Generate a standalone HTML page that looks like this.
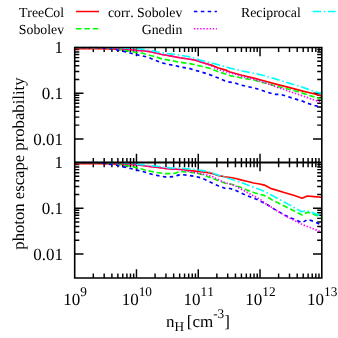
<!DOCTYPE html>
<html><head><meta charset="utf-8"><title>plot</title>
<style>html,body{margin:0;padding:0;background:#fff;overflow:hidden}svg{display:block;will-change:transform;opacity:0.999}text{font-family:"Liberation Serif",serif;fill:#000;text-rendering:geometricPrecision;font-kerning:none}</style>
</head><body>
<svg width="338" height="338" viewBox="0 0 338 338">
<rect width="338" height="338" fill="#fff"/>
<defs><clipPath id="ct"><rect x="74.7" y="46.8" width="247.1" height="115.8"/></clipPath><clipPath id="cb"><rect x="74.7" y="161.8" width="247.1" height="116.2"/></clipPath></defs>
<path d="M93.30 47.50 v4.60 M93.30 157.95 v9.20 M93.30 278.00 v-4.60 M104.17 47.50 v4.60 M104.17 157.95 v9.20 M104.17 278.00 v-4.60 M111.89 47.50 v4.60 M111.89 157.95 v9.20 M111.89 278.00 v-4.60 M117.88 47.50 v4.60 M117.88 157.95 v9.20 M117.88 278.00 v-4.60 M122.77 47.50 v4.60 M122.77 157.95 v9.20 M122.77 278.00 v-4.60 M126.91 47.50 v4.60 M126.91 157.95 v9.20 M126.91 278.00 v-4.60 M130.49 47.50 v4.60 M130.49 157.95 v9.20 M130.49 278.00 v-4.60 M133.65 47.50 v4.60 M133.65 157.95 v9.20 M133.65 278.00 v-4.60 M136.48 47.50 v8.80 M136.48 153.75 v17.60 M136.48 278.00 v-8.80 M155.07 47.50 v4.60 M155.07 157.95 v9.20 M155.07 278.00 v-4.60 M165.95 47.50 v4.60 M165.95 157.95 v9.20 M165.95 278.00 v-4.60 M173.67 47.50 v4.60 M173.67 157.95 v9.20 M173.67 278.00 v-4.60 M179.65 47.50 v4.60 M179.65 157.95 v9.20 M179.65 278.00 v-4.60 M184.55 47.50 v4.60 M184.55 157.95 v9.20 M184.55 278.00 v-4.60 M188.68 47.50 v4.60 M188.68 157.95 v9.20 M188.68 278.00 v-4.60 M192.26 47.50 v4.60 M192.26 157.95 v9.20 M192.26 278.00 v-4.60 M195.42 47.50 v4.60 M195.42 157.95 v9.20 M195.42 278.00 v-4.60 M198.25 47.50 v8.80 M198.25 153.75 v17.60 M198.25 278.00 v-8.80 M216.85 47.50 v4.60 M216.85 157.95 v9.20 M216.85 278.00 v-4.60 M227.72 47.50 v4.60 M227.72 157.95 v9.20 M227.72 278.00 v-4.60 M235.44 47.50 v4.60 M235.44 157.95 v9.20 M235.44 278.00 v-4.60 M241.43 47.50 v4.60 M241.43 157.95 v9.20 M241.43 278.00 v-4.60 M246.32 47.50 v4.60 M246.32 157.95 v9.20 M246.32 278.00 v-4.60 M250.46 47.50 v4.60 M250.46 157.95 v9.20 M250.46 278.00 v-4.60 M254.04 47.50 v4.60 M254.04 157.95 v9.20 M254.04 278.00 v-4.60 M257.20 47.50 v4.60 M257.20 157.95 v9.20 M257.20 278.00 v-4.60 M260.03 47.50 v8.80 M260.03 153.75 v17.60 M260.03 278.00 v-8.80 M278.62 47.50 v4.60 M278.62 157.95 v9.20 M278.62 278.00 v-4.60 M289.50 47.50 v4.60 M289.50 157.95 v9.20 M289.50 278.00 v-4.60 M297.22 47.50 v4.60 M297.22 157.95 v9.20 M297.22 278.00 v-4.60 M303.20 47.50 v4.60 M303.20 157.95 v9.20 M303.20 278.00 v-4.60 M308.10 47.50 v4.60 M308.10 157.95 v9.20 M308.10 278.00 v-4.60 M312.23 47.50 v4.60 M312.23 157.95 v9.20 M312.23 278.00 v-4.60 M315.81 47.50 v4.60 M315.81 157.95 v9.20 M315.81 278.00 v-4.60 M318.97 47.50 v4.60 M318.97 157.95 v9.20 M318.97 278.00 v-4.60 M74.70 49.59 h4.60 M321.80 49.59 h-4.60 M74.70 51.93 h4.60 M321.80 51.93 h-4.60 M74.70 54.58 h4.60 M321.80 54.58 h-4.60 M74.70 57.64 h4.60 M321.80 57.64 h-4.60 M74.70 61.26 h4.60 M321.80 61.26 h-4.60 M74.70 65.69 h4.60 M321.80 65.69 h-4.60 M74.70 71.40 h4.60 M321.80 71.40 h-4.60 M74.70 79.44 h4.60 M321.80 79.44 h-4.60 M74.70 93.20 h8.80 M321.80 93.20 h-8.80 M74.70 95.29 h4.60 M321.80 95.29 h-4.60 M74.70 97.63 h4.60 M321.80 97.63 h-4.60 M74.70 100.28 h4.60 M321.80 100.28 h-4.60 M74.70 103.34 h4.60 M321.80 103.34 h-4.60 M74.70 106.96 h4.60 M321.80 106.96 h-4.60 M74.70 111.39 h4.60 M321.80 111.39 h-4.60 M74.70 117.10 h4.60 M321.80 117.10 h-4.60 M74.70 125.14 h4.60 M321.80 125.14 h-4.60 M74.70 138.90 h8.80 M321.80 138.90 h-8.80 M74.70 164.64 h4.60 M321.80 164.64 h-4.60 M74.70 166.98 h4.60 M321.80 166.98 h-4.60 M74.70 169.63 h4.60 M321.80 169.63 h-4.60 M74.70 172.69 h4.60 M321.80 172.69 h-4.60 M74.70 176.31 h4.60 M321.80 176.31 h-4.60 M74.70 180.74 h4.60 M321.80 180.74 h-4.60 M74.70 186.45 h4.60 M321.80 186.45 h-4.60 M74.70 194.49 h4.60 M321.80 194.49 h-4.60 M74.70 208.25 h8.80 M321.80 208.25 h-8.80 M74.70 210.34 h4.60 M321.80 210.34 h-4.60 M74.70 212.68 h4.60 M321.80 212.68 h-4.60 M74.70 215.33 h4.60 M321.80 215.33 h-4.60 M74.70 218.39 h4.60 M321.80 218.39 h-4.60 M74.70 222.01 h4.60 M321.80 222.01 h-4.60 M74.70 226.44 h4.60 M321.80 226.44 h-4.60 M74.70 232.15 h4.60 M321.80 232.15 h-4.60 M74.70 240.19 h4.60 M321.80 240.19 h-4.60 M74.70 253.95 h8.80 M321.80 253.95 h-8.80" stroke="#000" stroke-width="1.45" fill="none"/>
<g clip-path="url(#ct)" fill="none" stroke-width="1.65" stroke-linejoin="round">
<path d="M74.7 48.6 L100.0 48.7 L118.0 49.1 L132.0 49.8 L144.4 51.0 L150.0 51.6 L155.9 53.0 L161.8 54.5 L170.1 55.9 L179.6 57.7 L190.0 59.3 L196.2 60.4 L203.3 62.7 L212.4 65.4 L217.8 67.7 L226.6 70.4 L230.0 72.0 L241.8 75.3 L253.7 78.1 L265.5 81.3 L276.8 84.4 L288.7 87.4 L301.8 90.9 L313.7 93.8 L321.5 96.0" stroke="#ff0000"/>
<path d="M74.7 47.3 L102.0 47.4 L108.0 48.0 L114.7 49.0 L125.7 50.5 L133.7 52.0 L142.8 53.3 L149.0 55.0 L151.5 55.7 L155.9 56.8 L161.8 58.9 L170.1 60.4 L179.6 62.2 L190.0 63.6 L201.5 66.3 L208.9 68.1 L217.8 71.6 L226.6 74.3 L230.0 75.6 L241.8 78.0 L253.7 80.0 L265.5 83.2 L276.8 86.4 L288.7 89.2 L301.8 92.9 L313.7 96.8 L321.5 98.9" stroke="#00ff00" stroke-dasharray="5.5 2.8"/>
<path d="M74.7 47.3 L96.0 47.4 L102.0 47.8 L108.0 48.4 L114.7 49.3 L121.8 51.1 L128.3 52.5 L134.9 54.4 L141.4 55.6 L148.5 57.4 L154.7 60.0 L161.8 62.8 L167.8 64.3 L174.9 65.5 L182.0 67.3 L190.0 68.6 L194.4 70.2 L200.0 71.6 L208.9 74.3 L217.8 77.8 L226.6 81.6 L234.1 82.7 L241.2 85.1 L247.8 86.7 L254.3 88.0 L260.8 90.0 L267.7 92.4 L274.5 94.3 L281.0 94.5 L287.5 96.5 L294.0 98.6 L301.2 100.7 L307.8 103.3 L314.3 105.4 L321.5 107.4" stroke="#0000ff" stroke-dasharray="3.5 3.4"/>
<path d="M74.7 47.3 L108.0 47.5 L120.0 48.8 L132.0 50.0 L144.4 51.2 L150.0 51.7 L155.9 53.1 L161.8 54.5 L170.1 55.8 L179.6 57.6 L190.0 59.2 L196.2 60.2 L203.3 62.9 L208.0 64.6 L212.4 66.6 L217.8 69.3 L226.6 72.0 L235.5 74.2 L241.8 76.4 L253.7 79.1 L265.5 82.9 L273.3 85.8 L279.2 88.0 L283.9 89.4 L289.9 91.7 L295.8 93.5 L301.8 95.6 L313.7 99.8 L321.5 102.4" stroke="#ff00ff" stroke-dasharray="1.4 1.75"/>
<path d="M74.7 47.3 L115.0 47.4 L128.0 48.2 L140.8 49.0 L150.0 50.4 L155.9 51.5 L161.8 52.9 L170.1 53.9 L179.6 55.1 L190.0 56.9 L194.4 58.3 L200.0 60.1 L214.2 63.6 L226.6 67.0 L230.0 68.1 L241.8 70.9 L253.7 73.2 L265.5 75.9 L276.8 79.4 L288.7 83.1 L301.8 87.0 L313.7 91.4 L321.5 93.5" stroke="#00ffff" stroke-dasharray="8.5 2.7 1.5 2.7"/>
</g>
<g clip-path="url(#cb)" fill="none" stroke-width="1.65" stroke-linejoin="round">
<path d="M74.7 163.6 L100.0 163.7 L120.0 164.1 L136.6 164.8 L149.0 166.5 L160.0 167.8 L165.0 168.5 L170.0 168.9 L176.8 169.2 L182.0 169.5 L188.7 170.4 L195.0 171.1 L200.5 171.8 L206.8 172.4 L212.8 173.6 L218.7 175.6 L224.6 176.8 L230.5 177.5 L235.9 178.5 L241.8 180.1 L247.8 181.5 L253.7 183.0 L259.6 184.0 L264.3 185.1 L270.0 188.0 L272.2 188.9 L283.3 192.2 L294.4 195.5 L302.1 198.2 L307.2 196.0 L314.3 196.6 L321.5 197.3" stroke="#ff0000"/>
<path d="M74.7 162.3 L104.0 162.5 L115.0 163.8 L127.8 165.7 L136.6 167.8 L147.3 170.6 L156.2 172.4 L165.0 173.6 L170.0 173.6 L174.5 173.4 L177.0 172.4 L180.0 171.6 L183.0 171.6 L188.7 172.2 L197.0 173.2 L203.0 174.8 L206.8 176.2 L212.8 178.6 L218.7 180.9 L224.6 183.1 L230.5 184.0 L235.9 185.4 L241.8 187.8 L247.8 190.4 L253.7 192.5 L259.6 194.3 L264.3 195.4 L270.0 198.4 L272.2 200.0 L283.3 205.5 L294.4 211.0 L302.1 215.0 L307.7 212.2 L316.6 215.5 L321.5 217.7" stroke="#00ff00" stroke-dasharray="5.5 2.8"/>
<path d="M74.7 162.3 L97.0 162.5 L108.0 164.0 L117.1 165.3 L126.0 167.4 L134.9 169.6 L142.0 171.3 L152.6 174.5 L161.5 176.3 L165.0 176.9 L170.0 176.9 L174.0 176.6 L177.0 175.6 L180.4 174.4 L187.5 175.2 L194.6 176.3 L201.7 178.0 L206.8 180.3 L212.8 183.3 L218.7 186.0 L225.8 188.6 L230.0 188.5 L233.6 189.5 L239.5 192.2 L245.4 194.9 L252.5 197.8 L257.2 199.6 L267.7 205.0 L276.6 210.5 L285.5 215.6 L294.4 219.4 L302.1 222.7 L307.7 219.4 L314.3 221.6 L321.5 225.0" stroke="#0000ff" stroke-dasharray="3.5 3.4"/>
<path d="M74.7 162.3 L108.0 162.5 L120.0 163.8 L136.6 164.8 L149.0 166.3 L160.0 167.4 L165.0 168.4 L170.0 168.8 L176.8 169.3 L182.8 170.2 L188.7 171.2 L194.6 172.4 L200.5 173.6 L206.8 174.8 L212.8 176.8 L218.7 179.8 L224.6 182.4 L230.5 184.3 L235.9 186.3 L241.8 189.5 L247.8 192.7 L253.7 196.0 L259.6 199.0 L267.7 205.0 L276.6 210.5 L285.5 216.0 L294.4 220.5 L303.3 225.0 L312.1 228.3 L321.5 232.0" stroke="#ff00ff" stroke-dasharray="1.4 1.75"/>
<path d="M74.7 162.3 L115.0 162.4 L130.0 163.4 L154.4 166.0 L160.0 166.5 L165.0 167.4 L170.0 167.9 L175.0 168.0 L180.0 168.2 L187.5 168.8 L194.5 169.3 L198.5 170.0 L203.0 170.6 L206.8 171.3 L212.8 173.2 L218.7 175.2 L224.6 177.4 L230.5 179.0 L235.9 180.7 L241.8 182.8 L247.8 185.1 L253.7 187.2 L259.6 189.5 L265.5 191.9 L270.0 194.5 L272.2 195.5 L283.3 201.5 L294.4 207.7 L301.5 211.7 L306.6 210.6 L314.3 213.3 L321.5 216.2" stroke="#00ffff" stroke-dasharray="8.5 2.7 1.5 2.7"/>
</g>
<path d="M74.70 47.50 H321.80 V278.00 H74.70 Z" stroke="#000" stroke-width="1.60" fill="none" stroke-linejoin="miter"/>
<path d="M74.70 162.55 H321.80" stroke="#000" stroke-width="1.95" fill="none"/>
<text x="62.9" y="53.1" font-size="17.0" text-anchor="end">1</text>
<text x="62.9" y="98.8" font-size="17.0" text-anchor="end">0.1</text>
<text x="62.9" y="144.5" font-size="17.0" text-anchor="end">0.01</text>
<text x="62.9" y="168.2" font-size="17.0" text-anchor="end">1</text>
<text x="62.9" y="213.8" font-size="17.0" text-anchor="end">0.1</text>
<text x="62.9" y="259.6" font-size="17.0" text-anchor="end">0.01</text>
<text x="63.27" y="305.2" font-size="17.0">10<tspan font-size="13.3" dy="-8.8">9</tspan></text>
<text x="121.73" y="305.2" font-size="17.0">10<tspan font-size="13.3" dy="-8.8">10</tspan></text>
<text x="183.50" y="305.2" font-size="17.0">10<tspan font-size="13.3" dy="-8.8">11</tspan></text>
<text x="245.28" y="305.2" font-size="17.0">10<tspan font-size="13.3" dy="-8.8">12</tspan></text>
<text x="307.05" y="305.2" font-size="17.0">10<tspan font-size="13.3" dy="-8.8">13</tspan></text>
<text x="165.9" y="326.8" font-size="17.0">n<tspan font-size="13.3" dy="4.6">H</tspan><tspan dy="-4.6" dx="-1.5"> [cm</tspan><tspan font-size="13.3" dy="-8.8">-3</tspan><tspan dy="8.8">]</tspan></text>
<text transform="translate(23.7,163.6) rotate(-90)" font-size="16.68" text-anchor="middle">photon escape probability</text>
<text x="64.1" y="16.9" font-size="13.8" text-anchor="end">TreeCol</text>
<path d="M76.0 11.5 h23" stroke="#ff0000" stroke-width="1.5" fill="none"/>
<text x="64.1" y="34.1" font-size="13.8" text-anchor="end">Sobolev</text>
<path d="M76.0 28.7 h23" stroke="#00ff00" stroke-width="1.5" fill="none" stroke-dasharray="5.5 2.8"/>
<text x="182.3" y="16.9" font-size="13.8" text-anchor="end">corr. Sobolev</text>
<path d="M193.9 11.5 h23" stroke="#0000ff" stroke-width="1.5" fill="none" stroke-dasharray="3.5 3.4"/>
<text x="182.3" y="34.1" font-size="13.8" text-anchor="end">Gnedin</text>
<path d="M193.9 28.7 h23" stroke="#ff00ff" stroke-width="1.5" fill="none" stroke-dasharray="1.4 1.75"/>
<text x="300.8" y="16.9" font-size="13.8" text-anchor="end">Reciprocal</text>
<path d="M312.6 11.5 h23" stroke="#00ffff" stroke-width="1.5" fill="none" stroke-dasharray="8.5 2.7 1.5 2.7"/>
</svg></body></html>
